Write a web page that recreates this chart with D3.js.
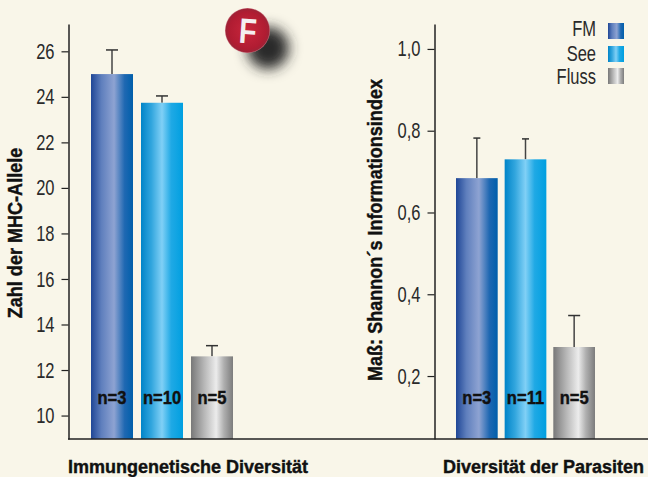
<!DOCTYPE html>
<html>
<head>
<meta charset="utf-8">
<script src="https://cdn.jsdelivr.net/npm/d3@7"></script>
<style>
  html, body { margin: 0; padding: 0; background: #f9f6e9; }
  svg { display: block; }
  text { font-family: "Liberation Sans", sans-serif; fill: #2a2a2a; }
  .bold { font-weight: bold; fill: #111; stroke: #111; stroke-width: 0.4px; }
  .domain, .tick line { stroke: #222; }
</style>
</head>
<body>
<div id="chart"></div>
<script>
// Daten
const categories = ["FM", "See", "Fluss"];

const alleleValues = [25, 23.74, 12.6];
const alleleErrorTops = [26.06, 24.04, 13.07];
const alleleCounts = ["n=3", "n=10", "n=5"];
const alleleTicks = [10, 12, 14, 16, 18, 20, 22, 24, 26];

const shannonValues = [0.684, 0.73, 0.271];
const shannonErrorTops = [0.782, 0.78, 0.348];
const shannonCounts = ["n=3", "n=11", "n=5"];
const shannonTicks = [0.2, 0.4, 0.6, 0.8, 1.0];

const width = 648;
const height = 477;
const axisBottom = 439;
const axisTop = 24;

const svg = d3
  .select("#chart")
  .append("svg")
  .attr("width", width)
  .attr("height", height);

const defs = svg.append("defs");

// Schmale Schrift gibt es nicht, also Text horizontal stauchen
function condense(selection, factor) {
  selection.each(function () {
    const len = this.getComputedTextLength();
    d3.select(this)
      .attr("textLength", len * factor)
      .attr("lengthAdjust", "spacingAndGlyphs");
  });
}

// Verläufe der Balken
const gradients = {
  FM: [["0%", "#1f4696"], ["25%", "#5f7fbd"], ["55%", "#8ea3d2"], ["80%", "#1f68b2"], ["100%", "#005fab"]],
  See: [["0%", "#0084c8"], ["25%", "#32a6de"], ["50%", "#80d0f6"], ["72%", "#1fa9e5"], ["100%", "#009fe0"]],
  Fluss: [["0%", "#787878"], ["30%", "#b4b4b4"], ["60%", "#ececec"], ["78%", "#b0b0b0"], ["100%", "#7c7c7c"]],
};

categories.forEach((c) => {
  defs
    .append("linearGradient")
    .attr("id", `grad-${c}`)
    .selectAll("stop")
    .data(gradients[c])
    .enter()
    .append("stop")
    .attr("offset", (d) => d[0])
    .attr("stop-color", (d) => d[1]);
});

const ball = defs.append("radialGradient").attr("id", "ball").attr("cx", "50%").attr("cy", "50%").attr("r", "50%");
ball.append("stop").attr("offset", "0%").attr("stop-color", "#c9263c");
ball.append("stop").attr("offset", "82%").attr("stop-color", "#b01c32");
ball.append("stop").attr("offset", "95%").attr("stop-color", "#a02236");
ball.append("stop").attr("offset", "100%").attr("stop-color", "#c8707c");

defs
  .append("filter")
  .attr("id", "blur")
  .attr("x", "-60%")
  .attr("y", "-60%")
  .attr("width", "220%")
  .attr("height", "220%")
  .append("feGaussianBlur")
  .attr("stdDeviation", 6.5);

function drawPanel(cfg) {
  const g = svg.append("g");

  const x = d3
    .scaleBand()
    .domain(categories)
    .range(cfg.xRange)
    .paddingInner(cfg.inner);

  const y = d3
    .scaleLinear()
    .domain(cfg.domain)
    .range([axisBottom, axisTop]);

  // Fehlerbalken
  g.selectAll(".err")
    .data(categories)
    .enter()
    .append("line")
    .attr("x1", (c) => x(c) + x.bandwidth() / 2)
    .attr("x2", (c) => x(c) + x.bandwidth() / 2)
    .attr("y1", (c, i) => y(cfg.values[i]))
    .attr("y2", (c, i) => y(cfg.tops[i]))
    .attr("stroke", "#444")
    .attr("stroke-width", 1.5);

  g.selectAll(".cap")
    .data(categories)
    .enter()
    .append("line")
    .attr("x1", (c, i) => x(c) + x.bandwidth() / 2 - cfg.caps[i] / 2)
    .attr("x2", (c, i) => x(c) + x.bandwidth() / 2 + cfg.caps[i] / 2)
    .attr("y1", (c, i) => y(cfg.tops[i]))
    .attr("y2", (c, i) => y(cfg.tops[i]))
    .attr("stroke", "#333")
    .attr("stroke-width", 1.5);

  // Balken
  g.selectAll(".bar")
    .data(categories)
    .enter()
    .append("rect")
    .attr("class", "bar")
    .attr("x", (c) => x(c))
    .attr("y", (c, i) => y(cfg.values[i]))
    .attr("width", x.bandwidth())
    .attr("height", (c, i) => axisBottom - y(cfg.values[i]))
    .attr("fill", (c) => `url(#grad-${c})`);

  // n= Beschriftung
  g.selectAll(".count")
    .data(categories)
    .enter()
    .append("text")
    .attr("class", "bold")
    .attr("x", (c) => x(c) + x.bandwidth() / 2)
    .attr("y", 404)
    .attr("text-anchor", "middle")
    .attr("font-size", 18)
    .text((c, i) => cfg.counts[i])
    .call(condense, 0.92);

  // Y-Achse
  const axis = d3
    .axisLeft(y)
    .tickValues(cfg.ticks)
    .tickSize(7)
    .tickSizeOuter(0)
    .tickPadding(7)
    .tickFormat(cfg.format);

  const axisG = g.append("g").attr("transform", `translate(${cfg.axisX},0)`).call(axis);
  axisG.selectAll(".domain").attr("stroke-width", 1.5);
  axisG.selectAll(".tick line").attr("stroke-width", 1.2);
  axisG
    .selectAll(".tick text")
    .attr("font-size", 22)
    .style("font-family", '"Liberation Sans", sans-serif')
    .attr("fill", "#2a2a2a")
    .call(condense, 0.75);

  // Y-Titel
  g.append("text")
    .attr("class", "bold")
    .attr("transform", `translate(${cfg.titleX},${cfg.titleY}) rotate(-90)`)
    .attr("text-anchor", "middle")
    .attr("font-size", 21)
    .text(cfg.title)
    .call(condense, 0.86);

  // X-Titel
  g.append("text")
    .attr("class", "bold")
    .attr("x", cfg.labelX)
    .attr("y", 473)
    .attr("font-size", 18)
    .text(cfg.label);
}

drawPanel({
  xRange: [91, 233],
  inner: 0.16,
  domain: [8.97, 27.2],
  values: alleleValues,
  tops: alleleErrorTops,
  counts: alleleCounts,
  ticks: alleleTicks,
  caps: [12, 12, 12],
  format: d3.format("d"),
  axisX: 68.5,
  title: "Zahl der MHC-Allele",
  titleX: 22,
  titleY: 233,
  label: "Immungenetische Diversität",
  labelX: 68,
});

drawPanel({
  xRange: [456, 595],
  inner: 0.143,
  domain: [0.046, 1.061],
  values: shannonValues,
  tops: shannonErrorTops,
  counts: shannonCounts,
  ticks: shannonTicks,
  caps: [7, 7, 12],
  format: (d) => d3.format(".1f")(d).replace(".", ","),
  axisX: 434.5,
  title: "Maß: Shannon´s Informationsindex",
  titleX: 382,
  titleY: 230,
  label: "Diversität der Parasiten",
  labelX: 443,
});

// Grundlinie
svg
  .append("line")
  .attr("x1", 68)
  .attr("x2", width)
  .attr("y1", axisBottom)
  .attr("y2", axisBottom)
  .attr("stroke", "#222")
  .attr("stroke-width", 1.5);

// Legende
const legend = svg
  .selectAll(".legend")
  .data(categories)
  .enter()
  .append("g")
  .attr("transform", (c, i) => `translate(0,${[23, 46, 68][i]})`);

legend
  .append("rect")
  .attr("x", 608)
  .attr("width", 16)
  .attr("height", 16)
  .attr("fill", (c) => `url(#grad-${c})`);

legend
  .append("text")
  .attr("x", 596)
  .attr("y", (c, i) => [12.5, 14.5, 15.5][i])
  .attr("text-anchor", "end")
  .attr("font-size", 22)
  .text((c) => c)
  .call(condense, 0.75);

// Logo "F"
const logo = svg.append("g");
logo.append("circle").attr("cx", 268).attr("cy", 48).attr("r", 21).attr("fill", "#2a2a2a").attr("filter", "url(#blur)");
logo.append("circle").attr("cx", 247.5).attr("cy", 30.5).attr("r", 22.5).attr("fill", "url(#ball)");
logo
  .append("text")
  .attr("transform", "translate(247,43) rotate(4)")
  .attr("text-anchor", "middle")
  .attr("font-size", 35)
  .style("font-weight", "bold")
  .style("fill", "#f4eef0")
  .text("F")
  .call(condense, 0.82);
</script>
</body>
</html>
